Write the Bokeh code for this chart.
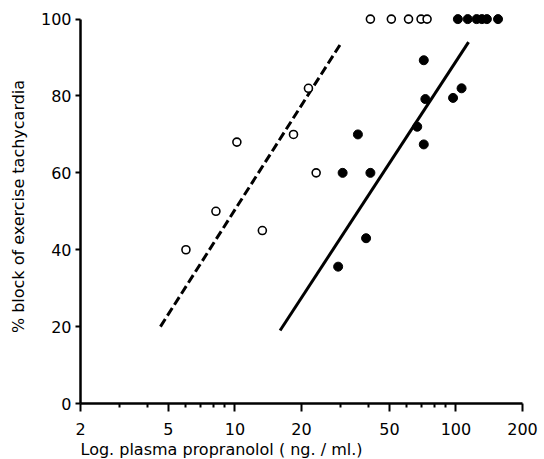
from bokeh.plotting import figure
from bokeh.models import Range1d, FixedTicker, PrintfTickFormatter, Title
from bokeh.embed import file_html
from bokeh.resources import INLINE

# Open circles (dashed-line group)
open_x = [6.0, 8.2, 10.2, 13.3, 18.4, 21.5, 23.3, 41, 51, 61, 69.5, 74]
open_y = [40, 50, 68, 45, 70, 82, 60, 100, 100, 100, 100, 100]

# Filled circles (solid-line group)
filled_x = [29.3, 30.7, 36, 39.2, 41, 66.8, 71.5, 72.7, 71.5, 97, 106,
            102, 113, 124, 131, 138, 155]
filled_y = [35.6, 60, 70, 43, 60, 72, 67.4, 79.2, 89.3, 79.5, 82,
            100, 100, 100, 100, 100, 100]

# Regression lines (end points)
dashed_x = [4.6, 30.4]
dashed_y = [20, 94]
solid_x = [16, 114]
solid_y = [19, 94]

x_major = [2, 5, 10, 20, 50, 100, 200]
x_minor = [3, 4, 6, 7, 8, 9, 30, 40, 60, 70, 80, 90]
y_major = [0, 20, 40, 60, 80, 100]

x_label = "Log. plasma propranolol  ( ng. / ml.)"
y_label = "% block of exercise tachycardia"

TICK_FONT = "DejaVu Sans"
LABEL_FONT = "DejaVu Sans"

p = figure(width=542, height=459, x_axis_type="log",
           x_range=Range1d(2, 200), y_range=Range1d(0, 102.5),
           output_backend="svg", toolbar_location=None,
           min_border_left=80, min_border_right=20,
           min_border_top=9, min_border_bottom=56)

p.outline_line_color = None
p.xgrid.grid_line_color = None
p.ygrid.grid_line_color = None
p.background_fill_color = "white"

p.line(dashed_x, dashed_y, line_color="black", line_width=3, line_dash="9 4")
p.line(solid_x, solid_y, line_color="black", line_width=3)

p.scatter(open_x, open_y, marker="circle", size=8, fill_color="white",
          line_color="black", line_width=1.6)
p.scatter(filled_x, filled_y, marker="circle", size=9, fill_color="black",
          line_color="black")

xa = p.xaxis[0]
xa.ticker = FixedTicker(ticks=x_major, minor_ticks=x_minor)
xa.formatter = PrintfTickFormatter(format="%d")
xa.bounds = (2, 200)
xa.axis_line_width = 2.5
xa.axis_line_color = "black"
xa.major_tick_line_width = 2
xa.minor_tick_line_width = 2
xa.major_tick_out = 8
xa.major_tick_in = 0
xa.minor_tick_out = 4
xa.minor_tick_in = 0
xa.major_label_text_font = TICK_FONT
xa.major_label_text_font_size = "16px"
xa.major_label_text_color = "black"
xa.major_label_standoff = 11

p.add_layout(Title(text=x_label, align="left", standoff=0,
                   text_font=LABEL_FONT, text_font_size="16px",
                   text_font_style="normal", text_color="black"), "below")

ya = p.yaxis[0]
ya.ticker = FixedTicker(ticks=y_major)
ya.bounds = (0, 100)
ya.axis_line_width = 2.5
ya.axis_line_color = "black"
ya.major_tick_line_width = 2
ya.minor_tick_line_color = None
ya.major_tick_out = 5
ya.major_tick_in = 0
ya.major_label_text_font = TICK_FONT
ya.major_label_text_font_size = "16px"
ya.major_label_text_color = "black"
ya.major_label_standoff = 4
ya.axis_label = y_label
ya.axis_label_text_font = LABEL_FONT
ya.axis_label_text_font_size = "16px"
ya.axis_label_text_font_style = "normal"
ya.axis_label_text_color = "black"
ya.axis_label_standoff = 10

open("out.html", "w").write(file_html(p, INLINE))
